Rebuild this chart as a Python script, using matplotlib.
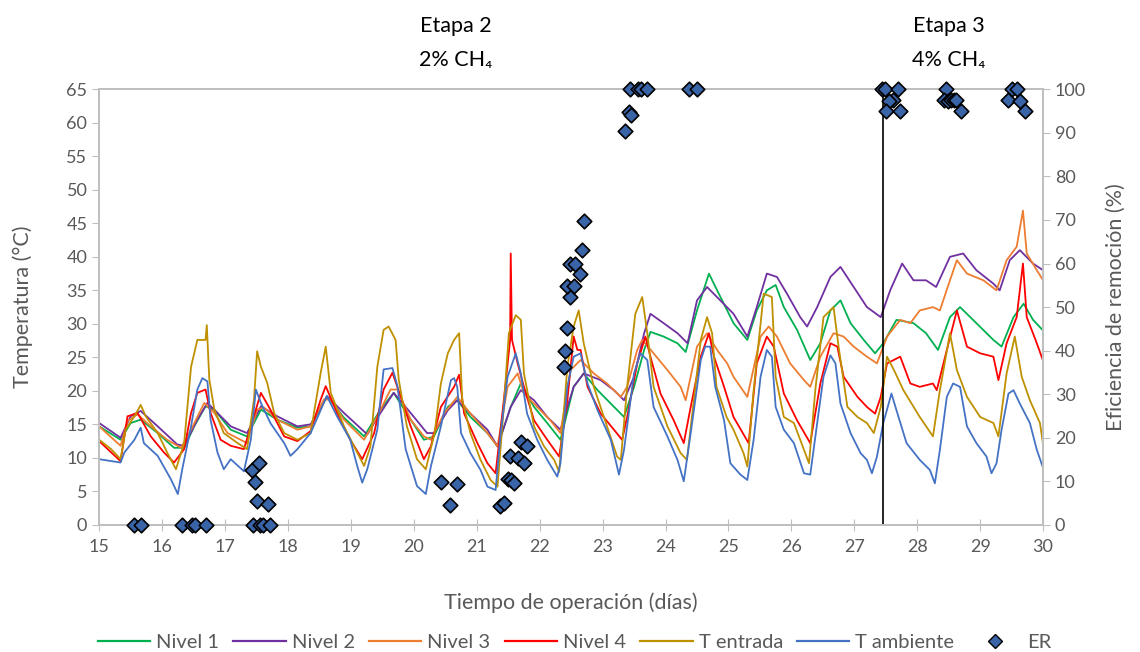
import numpy as np
import matplotlib
matplotlib.use('Agg')
import matplotlib.pyplot as plt
from matplotlib.lines import Line2D

plt.rcParams['font.family'] = ['Lato', 'DejaVu Sans']

# ---- datos (dia, temperatura) ----
t_n1 = [15.0, 15.34, 15.50, 15.66, 15.93, 16.19, 16.35, 16.51, 16.69, 16.83, 17.09, 17.35, 17.57, 17.83,
        18.15, 18.36, 18.62, 18.89, 19.21, 19.47, 19.68, 19.95, 20.16, 20.32, 20.54, 20.69, 20.90, 21.17,
        21.33, 21.54, 21.70, 21.91, 22.12, 22.33, 22.54, 22.70, 22.92, 23.13, 23.34, 23.50, 23.66, 23.76,
        23.97, 24.19, 24.32, 24.50, 24.69, 24.82, 24.98, 25.08, 25.30, 25.45, 25.61, 25.75, 25.88, 26.09,
        26.30, 26.46, 26.62, 26.78, 26.94, 27.15, 27.33, 27.46, 27.67, 27.94, 28.14, 28.33, 28.52, 28.68,
        28.94, 29.21, 29.34, 29.53, 29.69, 29.84, 30.0]
nivel1 = [14.7, 12.7, 15.2, 15.7, 13.7, 11.5, 11.5, 14.7, 17.7, 17.2, 14.2, 13.2, 17.2, 15.7,
          14.5, 14.7, 19.2, 16.0, 13.2, 17.2, 19.7, 15.7, 12.7, 13.2, 17.6, 18.6, 16.1, 13.7,
          11.7, 17.6, 21.1, 17.6, 15.2, 12.7, 20.6, 22.6, 20.1, 18.1, 16.1, 20.6, 26.1, 28.8,
          28.1, 27.1, 25.8, 32.0, 37.5, 35.0, 32.0, 30.1, 27.6, 32.0, 35.0, 35.8, 32.5, 29.1,
          24.6, 27.1, 32.0, 33.5, 30.1, 27.6, 25.6, 27.1, 30.6, 30.1, 28.6, 26.1, 31.0, 32.5,
          30.1, 27.6, 26.6, 31.0, 33.0, 30.6, 29.0]

t_n2 = [15.0, 15.34, 15.50, 15.66, 15.93, 16.24, 16.35, 16.56, 16.72, 16.88, 17.09, 17.35, 17.57, 17.83,
        18.15, 18.36, 18.62, 18.89, 19.26, 19.47, 19.68, 19.95, 20.21, 20.32, 20.54, 20.69, 20.90, 21.17,
        21.33, 21.54, 21.70, 21.91, 22.12, 22.33, 22.54, 22.70, 22.97, 23.18, 23.34, 23.50, 23.66, 23.76,
        23.97, 24.19, 24.35, 24.50, 24.66, 24.87, 25.08, 25.30, 25.45, 25.61, 25.77, 25.93, 26.14, 26.25,
        26.41, 26.62, 26.78, 26.99, 27.20, 27.42, 27.57, 27.76, 27.94, 28.14, 28.30, 28.52, 28.73, 28.94,
        29.21, 29.31, 29.47, 29.63, 29.84, 30.0]
nivel2 = [15.2, 13.0, 16.2, 17.0, 14.7, 12.0, 11.8, 15.7, 18.2, 16.7, 14.7, 13.7, 17.7, 16.2,
          14.7, 15.0, 19.2, 16.7, 13.5, 16.7, 19.7, 16.7, 13.7, 13.7, 17.1, 18.6, 16.6, 14.2,
          11.7, 17.6, 20.1, 18.6, 16.1, 14.2, 20.6, 22.6, 21.6, 20.1, 18.6, 22.1, 28.6, 31.5,
          30.1, 28.6, 27.1, 33.5, 35.5, 33.5, 31.5, 28.1, 32.5, 37.5, 37.0, 34.5, 31.0, 29.6,
          32.5, 37.0, 38.5, 35.5, 32.5, 31.0, 35.0, 39.0, 36.5, 36.5, 35.5, 40.0, 40.5, 38.0,
          36.0, 35.0, 39.5, 41.0, 39.0, 38.0]

t_n3 = [15.0, 15.34, 15.45, 15.61, 15.82, 16.08, 16.30, 16.46, 16.67, 16.83, 17.04, 17.35, 17.51, 17.62,
        17.83, 18.15, 18.36, 18.57, 18.68, 18.89, 19.21, 19.42, 19.63, 19.74, 19.95, 20.16, 20.27, 20.48,
        20.69, 20.90, 21.17, 21.33, 21.49, 21.65, 21.75, 21.96, 22.17, 22.33, 22.49, 22.65, 22.86, 23.07,
        23.29, 23.39, 23.55, 23.63, 23.81, 24.03, 24.24, 24.32, 24.50, 24.66, 24.82, 24.98, 25.08, 25.30,
        25.51, 25.64, 25.77, 25.98, 26.20, 26.30, 26.46, 26.67, 26.83, 26.99, 27.20, 27.36, 27.52, 27.73,
        27.89, 28.04, 28.25, 28.36, 28.52, 28.63, 28.79, 29.05, 29.26, 29.42, 29.58, 29.68, 29.74, 29.90,
        30.0]
nivel3 = [14.7, 11.8, 15.5, 16.5, 14.7, 12.7, 11.5, 14.2, 18.2, 16.7, 13.7, 12.2, 17.2, 17.5,
          15.7, 14.2, 14.7, 18.7, 18.7, 15.7, 12.7, 16.2, 20.2, 20.2, 15.7, 13.2, 12.7, 16.6,
          19.1, 16.6, 13.7, 11.7, 20.6, 22.6, 19.6, 17.6, 15.6, 13.7, 23.1, 24.6, 22.6, 21.1,
          19.1, 20.6, 26.1, 27.6, 25.6, 23.1, 20.6, 18.6, 26.6, 28.6, 26.1, 24.1, 22.1, 19.1,
          28.1, 29.6, 28.1, 24.1, 21.6, 20.6, 25.1, 28.6, 28.1, 26.6, 25.1, 24.1, 28.1, 30.6,
          30.1, 32.0, 32.5, 32.0, 36.5, 39.5, 37.5, 36.5, 35.0, 39.5, 41.5, 46.9, 40.5, 38.0,
          36.5]

t_n4 = [15.0, 15.34, 15.45, 15.61, 15.82, 16.03, 16.19, 16.35, 16.46, 16.56, 16.69, 16.77, 16.93, 17.09,
        17.30, 17.41, 17.57, 17.72, 17.94, 18.15, 18.36, 18.52, 18.60, 18.78, 18.99, 19.18, 19.37, 19.52,
        19.66, 19.79, 19.95, 20.16, 20.27, 20.43, 20.64, 20.72, 20.80, 21.01, 21.17, 21.30, 21.43, 21.53,
        21.54, 21.56, 21.65, 21.75, 21.91, 22.12, 22.31, 22.44, 22.54, 22.60, 22.65, 22.76, 22.97, 23.18,
        23.31, 23.39, 23.55, 23.68, 23.76, 23.92, 24.13, 24.29, 24.40, 24.56, 24.69, 24.77, 24.93, 25.08,
        25.32, 25.45, 25.61, 25.72, 25.88, 26.09, 26.30, 26.46, 26.62, 26.73, 26.83, 27.05, 27.20, 27.33,
        27.42, 27.52, 27.73, 27.89, 28.04, 28.25, 28.31, 28.47, 28.63, 28.79, 29.00, 29.21, 29.29, 29.42,
        29.58, 29.68, 29.74, 29.88, 30.0]
nivel4 = [12.5, 9.5, 16.2, 16.7, 13.2, 10.8, 9.3, 11.3, 16.7, 19.7, 20.2, 16.7, 12.7, 11.8,
          11.3, 14.7, 19.7, 17.2, 13.2, 12.5, 14.0, 18.7, 20.7, 16.7, 12.7, 9.8, 13.7, 20.2,
          22.7, 19.2, 14.7, 9.8, 11.7, 17.6, 20.6, 22.4, 16.6, 12.2, 9.2, 7.7, 18.6, 27.6,
          40.5, 27.6, 24.1, 20.6, 15.6, 12.7, 10.2, 18.6, 28.1, 26.1, 26.1, 20.6, 16.6, 14.2,
          12.7, 16.1, 24.1, 28.1, 25.1, 19.6, 15.6, 12.2, 17.6, 25.1, 28.6, 25.1, 20.6, 16.1,
          12.2, 24.1, 28.1, 26.6, 19.6, 15.6, 12.2, 21.1, 27.1, 26.6, 22.1, 19.1, 17.6, 16.6,
          19.1, 24.1, 25.1, 21.1, 20.6, 21.1, 20.1, 26.1, 32.0, 26.6, 25.6, 25.1, 21.6, 27.1,
          31.0, 39.0, 31.0, 27.6, 24.5]

t_ent = [15.0, 15.19, 15.34, 15.42, 15.56, 15.66, 15.74, 15.93, 16.08, 16.22, 16.35, 16.46, 16.56, 16.69,
         16.71, 16.75, 16.83, 16.98, 17.20, 17.35, 17.46, 17.51, 17.57, 17.67, 17.78, 17.94, 18.15, 18.36,
         18.52, 18.60, 18.68, 18.89, 19.10, 19.21, 19.31, 19.42, 19.52, 19.60, 19.71, 19.76, 19.89, 20.05,
         20.19, 20.33, 20.43, 20.54, 20.64, 20.72, 20.77, 20.90, 21.06, 21.22, 21.33, 21.43, 21.51, 21.62,
         21.70, 21.75, 21.91, 22.07, 22.23, 22.31, 22.44, 22.54, 22.62, 22.70, 22.86, 23.07, 23.23, 23.29,
         23.39, 23.52, 23.63, 23.71, 23.81, 24.03, 24.24, 24.34, 24.45, 24.56, 24.66, 24.74, 24.81, 24.97,
         25.08, 25.24, 25.30, 25.40, 25.56, 25.69, 25.75, 25.88, 26.04, 26.20, 26.28, 26.38, 26.51, 26.67,
         26.75, 26.89, 27.05, 27.20, 27.31, 27.42, 27.52, 27.63, 27.78, 28.04, 28.25, 28.36, 28.52, 28.63,
         28.79, 29.00, 29.21, 29.29, 29.42, 29.55, 29.66, 29.79, 29.95, 30.0]
t_entrada = [12.7, 11.3, 9.8, 14.2, 16.2, 17.9, 16.2, 13.7, 10.8, 8.3, 12.2, 23.6, 27.6, 27.6,
             29.8, 21.7, 17.2, 13.7, 12.2, 11.3, 18.7, 25.9, 23.6, 21.2, 16.7, 13.7, 12.7, 13.7,
             22.7, 26.6, 19.7, 14.7, 10.8, 8.8, 11.7, 23.6, 29.1, 29.6, 27.6, 21.7, 14.7, 9.8,
             8.3, 13.7, 21.1, 25.6, 27.6, 28.6, 18.6, 13.7, 9.7, 6.7, 5.7, 17.6, 28.6, 31.3,
             30.6, 22.6, 14.7, 11.7, 9.7, 7.9, 23.6, 29.6, 32.0, 27.1, 20.6, 14.7, 10.2, 9.7,
             20.6, 31.5, 34.0, 28.6, 20.6, 14.7, 10.7, 9.7, 18.6, 27.6, 31.0, 28.6, 20.6, 16.1,
             14.2, 10.7, 8.7, 20.1, 34.5, 34.0, 22.1, 16.1, 15.2, 11.2, 9.2, 20.1, 31.0, 32.5,
             26.6, 17.6, 16.1, 15.2, 13.7, 17.6, 25.1, 23.1, 20.1, 16.1, 13.2, 20.1, 28.6, 23.1,
             19.1, 16.1, 15.2, 13.2, 22.6, 28.1, 22.1, 18.6, 15.2, 12.0]

t_amb = [15.0, 15.34, 15.40, 15.56, 15.66, 15.71, 15.93, 16.14, 16.25, 16.32, 16.46, 16.56, 16.64, 16.72,
         16.77, 16.88, 16.98, 17.09, 17.30, 17.41, 17.49, 17.57, 17.72, 17.94, 18.04, 18.15, 18.36, 18.57,
         18.62, 18.78, 18.99, 19.10, 19.18, 19.26, 19.42, 19.52, 19.66, 19.74, 19.87, 20.05, 20.19, 20.27,
         20.43, 20.59, 20.64, 20.69, 20.75, 20.90, 21.06, 21.17, 21.30, 21.38, 21.49, 21.62, 21.70, 21.80,
         21.96, 22.12, 22.28, 22.33, 22.44, 22.54, 22.65, 22.76, 22.92, 23.13, 23.26, 23.34, 23.50, 23.60,
         23.71, 23.81, 24.03, 24.19, 24.29, 24.40, 24.56, 24.63, 24.71, 24.79, 24.93, 25.03, 25.19, 25.30,
         25.40, 25.51, 25.61, 25.69, 25.75, 25.88, 26.04, 26.20, 26.30, 26.41, 26.51, 26.62, 26.70, 26.78,
         26.94, 27.10, 27.20, 27.28, 27.36, 27.46, 27.59, 27.67, 27.83, 28.04, 28.20, 28.28, 28.36, 28.47,
         28.57, 28.68, 28.79, 28.94, 29.10, 29.18, 29.26, 29.34, 29.45, 29.53, 29.63, 29.79, 29.90, 30.0]
t_ambiente = [9.8, 9.3, 10.8, 12.7, 14.5, 12.2, 10.3, 6.8, 4.6, 8.3, 14.7, 20.2, 21.9, 21.4,
              15.7, 10.8, 8.3, 9.8, 8.0, 12.7, 20.2, 18.2, 15.2, 12.2, 10.3, 11.3, 13.7, 18.2,
              19.2, 16.2, 12.7, 8.8, 6.3, 8.3, 14.2, 23.2, 23.4, 20.7, 11.3, 5.8, 4.6, 8.7,
              14.7, 21.6, 21.9, 20.6, 13.7, 10.7, 8.2, 5.7, 5.2, 13.7, 22.1, 25.6, 22.6, 16.6,
              12.7, 9.7, 7.2, 9.2, 20.6, 25.1, 25.6, 21.1, 17.1, 12.7, 7.5, 11.2, 22.6, 25.6,
              24.6, 17.6, 13.2, 9.7, 6.5, 13.7, 24.6, 26.6, 26.6, 20.6, 15.6, 9.2, 7.5, 6.7,
              12.7, 22.1, 26.1, 25.1, 17.6, 14.2, 12.2, 7.7, 7.5, 15.2, 22.1, 25.3, 24.1, 18.1,
              13.7, 10.7, 9.7, 7.7, 10.2, 15.2, 19.6, 17.1, 12.2, 9.7, 8.2, 6.2, 11.2, 19.1,
              21.1, 20.6, 14.7, 12.2, 10.2, 7.7, 9.2, 14.2, 19.6, 20.1, 18.1, 15.2, 11.2, 8.5]

# eficiencia de remocion (%)
t_er = [15.56, 15.67, 16.31, 16.47, 16.53, 16.69, 17.44, 17.56, 17.61, 17.71, 17.43, 17.48, 17.51, 17.54,
        17.68, 20.43, 20.58, 20.69, 21.37, 21.43, 21.50, 21.55, 21.59, 21.53, 21.65, 21.75, 21.70, 21.80,
        22.38, 22.40, 22.44, 22.48, 22.44, 22.54, 22.48, 22.56, 22.64, 22.67, 22.70, 23.36, 23.42, 23.45,
        23.44, 23.56, 23.61, 23.71, 24.38, 24.50, 27.44, 27.48, 27.70, 27.62, 27.55, 27.50, 27.73, 28.45,
        28.42, 28.49, 28.54, 28.58, 28.62, 28.69, 29.51, 29.58, 29.44, 29.64, 29.71]
er = [0, 0, 0, 0, 0, 0, 0, 0, 0, 0, 12.5, 9.9, 5.5, 14.3,
      4.9, 9.9, 4.6, 9.4, 4.4, 5.0, 10.5, 10.3, 9.7, 15.8, 15.3, 14.2, 19.1, 18.0,
      36.3, 40.0, 45.1, 52.4, 54.9, 54.9, 60.0, 60.0, 57.7, 63.1, 69.8, 90.4, 94.8, 94.0,
      100, 100, 100, 100, 100, 100, 100, 100, 100, 97.5, 97.4, 95.0, 95.0, 100,
      97.5, 97.4, 97.5, 97.5, 97.6, 95.0, 100, 100, 97.5, 97.4, 95.0]

inicio_etapa3 = 27.45

series = [
    (t_n1, nivel1, 'Nivel 1', '#00b050'),
    (t_n2, nivel2, 'Nivel 2', '#7030a0'),
    (t_n3, nivel3, 'Nivel 3', '#ed7d31'),
    (t_n4, nivel4, 'Nivel 4', '#ff0000'),
    (t_ent, t_entrada, 'T entrada', '#bf9000'),
    (t_amb, t_ambiente, 'T ambiente', '#4472c4'),
]

gris = '#595959'
eje = '#bfbfbf'

fig = plt.figure(figsize=(11.4, 6.52), dpi=100)
ax = fig.add_axes([0.087, 0.195, 0.828, 0.668])

for t, y, lab, c in series:
    ax.plot(t, y, color=c, lw=1.3, label=lab)

ax.axvline(inicio_etapa3, color='black', lw=1.2)

ax.set_xlim(15, 30)
ax.set_ylim(0, 65)
ax.set_xticks(range(15, 31))
ax.set_yticks(range(0, 66, 5))
ax.tick_params(axis='x', direction='inout', length=8, color=eje, labelcolor=gris, labelsize=13, pad=6)
ax.tick_params(axis='y', direction='out', length=5, color=eje, labelcolor=gris, labelsize=13)
for s in ax.spines.values():
    s.set_color(eje)
    s.set_linewidth(1.3)
ax.set_xlabel('Tiempo de operación (días)', fontsize=15.5, color=gris, labelpad=27)
ax.set_ylabel('Temperatura (°C)', fontsize=15.5, color=gris, labelpad=24)

ax2 = ax.twinx()
ax2.scatter(t_er, er, marker='D', s=55, facecolor='#3a64a8', edgecolor='black',
            linewidth=1.2, zorder=5, clip_on=False, label='ER')
ax2.set_ylim(0, 100)
ax2.set_yticks(range(0, 101, 10))
ax2.tick_params(axis='y', direction='out', length=5, color=eje, labelcolor=gris, labelsize=13)
for s in ax2.spines.values():
    s.set_color(eje)
    s.set_linewidth(1.3)
ax2.set_ylabel('Eficiencia de remoción (%)', fontsize=15.5, color=gris, labelpad=14)

ax.text(20.66, 1.045, 'Etapa 2\n2% CH₄', transform=ax.get_xaxis_transform(),
        ha='center', va='bottom', fontsize=15.5, linespacing=1.85)
ax.text(28.5, 1.045, 'Etapa 3\n4% CH₄', transform=ax.get_xaxis_transform(),
        ha='center', va='bottom', fontsize=15.5, linespacing=1.85)

handles = [Line2D([], [], color=c, lw=1.6) for _, _, _, c in series]
handles.append(Line2D([], [], ls='none', marker='D', markersize=7, markerfacecolor='#3a64a8',
                      markeredgecolor='black'))
labels = [lab for _, _, lab, _ in series] + ['ER']
fig.legend(handles, labels, loc='center', ncol=7, frameon=False, fontsize=14.5,
           labelcolor=gris, handlelength=2.6, columnspacing=0.7, handletextpad=0.3,
           bbox_to_anchor=(0.504, 0.014))

fig.savefig('out.png', dpi=100)
